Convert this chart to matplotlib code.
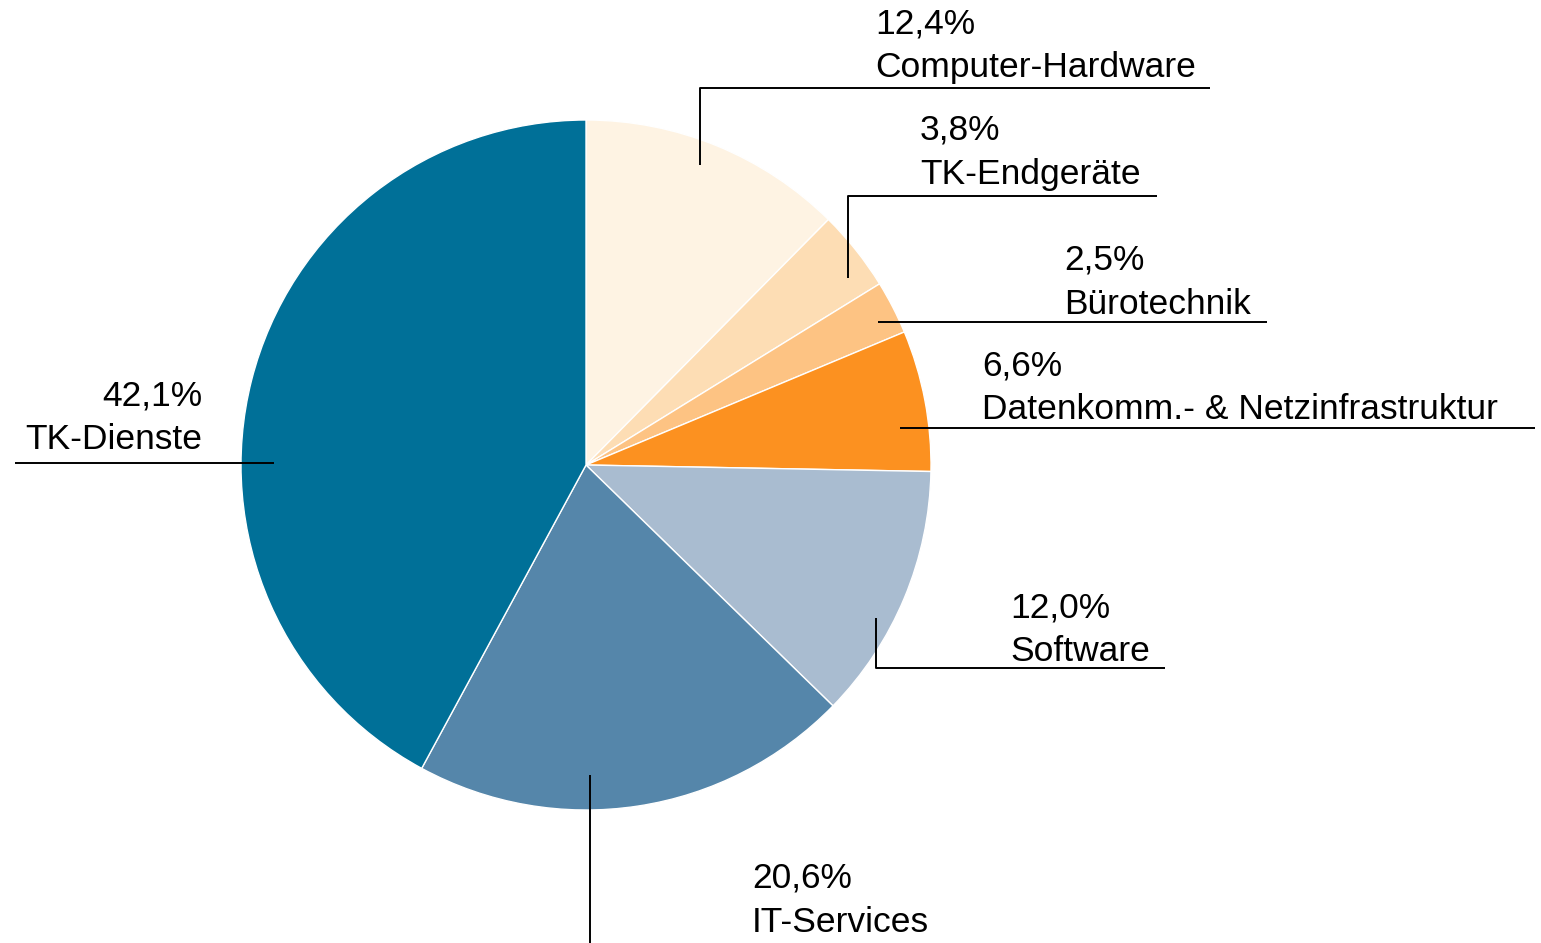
import matplotlib
matplotlib.use("Agg")
import matplotlib.pyplot as plt

# Data: share of market segments (percent), clockwise from the top
categories = ["Computer-Hardware", "TK-Endgeräte", "Bürotechnik",
              "Datenkomm.- & Netzinfrastruktur", "Software", "IT-Services", "TK-Dienste"]
values = [12.4, 3.8, 2.5, 6.6, 12.0, 20.6, 42.1]
value_labels = ["12,4%", "3,8%", "2,5%", "6,6%", "12,0%", "20,6%", "42,1%"]
colors = ["#FEF3E3", "#FDDDB4", "#FDC383", "#FC9120", "#A9BCD0", "#5586AA", "#007098"]

plt.rcParams['font.family'] = ['Liberation Sans', 'DejaVu Sans']

W, H = 1541, 943
fig = plt.figure(figsize=(W / 100, H / 100), dpi=100)
ax = fig.add_axes([0, 0, 1, 1])

# axes in pixel units, y pointing down
ax.pie(values, colors=colors, startangle=-90, counterclock=True,
       center=(586, 465), radius=345, frame=True,
       wedgeprops=dict(edgecolor="white", linewidth=1))
ax.set_xlim(0, W)
ax.set_ylim(H, 0)
ax.set_aspect("auto")
ax.axis("off")

# label layout: text x, alignment, baseline of first line, leader line path
layout = [
    (875, "left", 33, [(700, 165), (700, 88), (1210, 88)]),
    (920, "left", 140, [(848, 278), (848, 196), (1157, 196)]),
    (1064, "left", 270, [(878, 322), (1267, 322)]),
    (982, "left", 375, [(900, 428), (1535, 428)]),
    (1010, "left", 617, [(876, 618), (876, 668), (1165, 668)]),
    (752, "left", 888, [(590, 775), (590, 950)]),
    (202, "right", 405, [(15, 463), (274, 463)]),
]

fs = 25.5
for (tx, ha, by, path), cat, lab in zip(layout, categories, value_labels):
    ax.text(tx, by, lab, ha=ha, va="baseline", fontsize=fs, color="black")
    ax.text(tx, by + 44, cat, ha=ha, va="baseline", fontsize=fs, color="black")
    xs = [p[0] for p in path]
    ys = [p[1] for p in path]
    ax.plot(xs, ys, color="black", linewidth=1.4, solid_capstyle="butt")

fig.savefig("out.png", dpi=100)
